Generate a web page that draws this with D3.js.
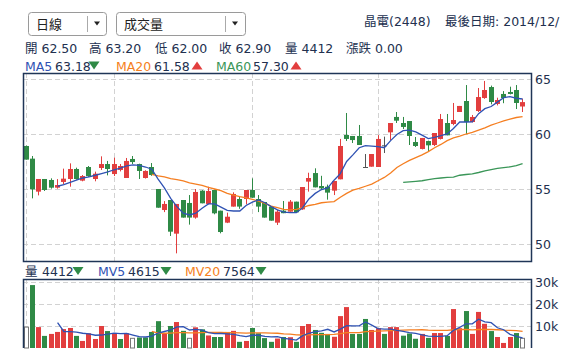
<!DOCTYPE html>
<html><head><meta charset="utf-8">
<script src="https://cdn.jsdelivr.net/npm/d3@7/dist/d3.min.js"></script>
<style>
html,body{margin:0;padding:0;background:#fff;}
svg{display:block;font-family:"DejaVu Sans","Noto Sans CJK TC",sans-serif;}
</style></head><body>
<svg id="c" width="570" height="364"></svg>
<script>
// ---------- data ----------
const opens  = [58.91,57.76,54.76,55.91,55.82,55.12,55.64,55.91,56.82,55.76,57.0,55.91,56.91,57.27,56.36,56.73,56.0,57.73,57.27,56.0,
                57.0,55.0,53.09,54.0,50.94,54.0,53.73,52.4,54.85,53.64,54.91,53.03,51.94,53.4,54.09,54.09,54.91,54.09,53.82,53.4,
                51.94,53.03,52.94,53.85,53.15,55.67,56.45,55.27,55.21,54.85,55.88,59.91,59.82,59.82,57.0,57.03,57.0,58.97,60.15,61.55,
                61.0,61.18,59.27,58.64,59.36,59.0,59.55,61.0,60.91,62.0,63.0,61.09,62.09,63.27,64.27,62.73,63.64,63.82,64.0,62.5];
const highs  = [58.95,58.0,55.91,55.91,55.97,55.9,56.85,57.33,56.94,56.27,57.09,56.58,57.97,57.55,57.85,57.27,57.82,58.0,57.3,56.7,
                57.36,55.0,53.9,54.0,53.64,54.0,54.45,55.0,54.9,55.21,54.95,53.03,52.85,54.7,54.3,54.91,55.97,54.45,53.82,53.4,
                53.1,53.91,54.0,53.85,55.18,56.48,56.88,56.2,55.4,55.73,59.55,61.91,59.82,60.82,58.18,58.18,59.9,59.76,61.0,62.0,
                61.55,61.18,59.73,59.64,59.4,60.09,61.82,61.82,62.82,62.55,64.45,61.73,64.18,64.82,64.4,63.3,63.9,64.3,64.45,63.2];
const lows   = [57.67,54.15,54.42,54.82,55.03,55.03,55.42,55.21,55.85,55.7,56.1,55.7,56.73,56.24,56.18,56.6,56.0,57.27,55.91,55.95,
                56.2,53.3,52.9,50.73,49.15,52.4,51.76,52.3,53.7,53.6,52.7,50.97,51.9,53.4,53.2,53.6,54.2,52.9,52.4,52.12,
                51.73,52.8,52.94,52.88,53.1,54.76,55.15,54.9,54.03,54.45,55.88,59.36,59.18,59.0,57.0,57.03,57.0,58.27,59.45,61.0,
                60.45,59.0,58.82,58.6,58.4,58.9,59.5,59.88,60.8,62.0,60.0,61.05,62.0,63.2,62.7,62.6,62.8,63.6,62.27,62.0];
const closes = [57.67,54.97,55.91,54.91,55.12,55.36,55.94,56.82,55.91,56.18,56.18,56.39,57.27,56.82,57.27,57.09,57.55,57.45,56.64,56.64,
                56.27,53.3,53.64,51.12,53.64,52.4,52.4,54.73,53.7,54.82,52.79,51.09,52.48,54.55,53.4,54.91,54.21,53.4,52.4,52.12,
                52.94,52.8,53.85,52.88,55.18,56.0,55.15,55.06,54.67,55.73,58.91,59.55,59.45,59.0,57.0,58.18,59.55,58.97,61.0,61.21,
                60.64,59.82,58.91,59.64,58.97,60.09,61.36,59.88,61.27,62.55,61.09,61.55,63.36,64.0,62.91,63.09,63.27,63.64,62.82,62.9];
// volume in thousands of lots
const volumes = [9.5,28.6,9.5,5.5,6.4,7.3,8.6,9.1,5.5,3.2,6.7,4.1,10.0,7.7,6.7,4.1,6.7,4.4,4.8,4.8,
                 7.3,12.2,6.6,10.0,11.8,7.8,4.4,9.4,8.5,5.7,5.0,5.0,7.3,7.8,2.8,3.2,9.1,6.7,4.5,2.8,
                 4.3,5.0,4.9,2.8,10.0,10.9,8.2,6.9,6.4,5.1,14.5,18.6,6.4,6.4,13.2,8.2,9.0,6.4,9.5,9.5,
                 5.6,6.6,4.2,6.4,4.6,6.8,6.8,5.5,17.7,9.0,16.8,6.4,16.4,11.0,7.7,5.0,2.3,5.0,6.8,4.4];
// u = up vs previous close, d = down, f = flat
const volDir = ["f","d","u","d","u","u","u","u","d","u","u","u","u","d","u","d","u","f","d","d",
                "d","d","u","d","u","d","f","u","d","u","d","d","u","u","d","u","d","d","d","d",
                "u","d","u","d","u","u","d","d","d","u","u","u","d","d","d","u","u","d","u","u",
                "d","d","d","u","d","u","u","d","u","u","d","u","u","u","d","u","u","u","d","f"];
const ma5 = [null,null,null,null,null,55.25,55.4,55.6,55.8,56.0,56.1,56.25,56.4,56.55,56.75,56.9,57.1,57.2,57.15,57.0,
             56.8,55.9,55.1,54.15,53.4,52.8,52.64,52.8,53.25,53.65,53.65,53.35,53.05,53.0,53.0,53.5,53.8,54.0,53.75,53.4,
             53.1,52.9,52.85,52.85,53.3,54.1,54.6,54.95,55.1,55.8,56.4,57.5,58.1,58.75,58.95,58.9,58.85,58.75,59.4,59.95,
             60.3,60.35,60.2,59.9,59.58,59.7,59.85,60.0,60.5,61.09,61.09,61.1,61.85,62.3,62.5,62.9,63.3,63.4,63.25,63.18];
const ma20 = [null,null,null,null,null,null,null,null,null,null,null,null,null,null,null,null,null,null,null,null,
              56.33,56.2,56.1,55.95,55.85,55.73,55.55,55.45,55.32,55.15,55.0,54.85,54.6,54.45,54.3,54.2,54.05,53.9,53.7,53.45,
              53.3,53.15,53.1,53.15,53.3,53.5,53.6,53.75,53.8,53.85,54.25,54.6,54.9,55.05,55.25,55.45,55.75,56.05,56.45,56.95,
              57.3,57.6,57.85,58.1,58.4,58.75,59.05,59.4,59.65,59.8,60.0,60.15,60.35,60.55,60.8,61.0,61.2,61.35,61.5,61.58];
const ma60 = [null,null,null,null,null,null,null,null,null,null,null,null,null,null,null,null,null,null,null,null,
              null,null,null,null,null,null,null,null,null,null,null,null,null,null,null,null,null,null,null,null,
              null,null,null,null,null,null,null,null,null,null,null,null,null,null,null,null,null,null,null,null,
              55.6,55.65,55.7,55.75,55.85,55.95,56.0,56.05,56.08,56.25,56.32,56.37,56.5,56.65,56.77,56.87,56.95,57.02,57.12,57.3];
const mv5 = [null,null,null,null,null,11.5,7.5,7.4,7.2,6.7,6.4,5.8,5.9,6.3,6.8,6.5,6.6,5.9,5.2,5.0,
             5.4,6.8,7.5,8.2,9.6,9.7,8.2,8.5,8.1,7.0,6.5,6.6,6.4,6.2,5.6,5.2,5.8,5.8,5.3,5.1,
             5.2,4.4,4.0,3.6,5.6,6.7,7.4,7.8,8.5,7.3,8.6,10.2,10.1,10.1,11.8,10.4,8.8,8.6,8.6,8.0,
             7.6,7.0,6.6,6.0,5.4,5.3,5.3,5.6,8.0,9.4,11.0,11.0,13.1,11.9,11.5,9.2,8.3,6.2,5.3,4.6];
const mv20 = [null,null,null,null,null,null,null,null,null,null,null,null,null,null,null,null,null,null,null,null,
              7.6,6.8,6.7,6.8,7.0,7.0,6.9,6.9,7.0,7.1,7.1,7.1,7.0,7.0,6.9,6.8,6.9,6.9,6.9,6.8,
              6.7,6.4,6.3,6.0,5.9,6.0,6.1,6.1,6.1,6.2,6.5,7.0,7.0,7.0,7.4,7.6,7.7,7.8,7.9,8.0,
              8.1,8.2,8.2,8.3,8.1,8.0,8.0,8.0,8.3,8.4,8.4,8.2,8.4,8.5,8.4,8.3,8.1,8.0,7.9,7.56];
const monthStarts = [0,14,36,56];
const priceTicks = [50,55,60,65];
const volTicks = [10,20,30];
const volTickLabels = ["10k","20k","30k"];

// ---------- styles ----------
const RED = "#e23e3e", GREEN = "#2f8a46", GRAY = "#555", NAVY = "#1f3557", TXT = "#22304f";
const C_MA5 = "#2f52b3", C_MA20 = "#f57f22", C_MA60 = "#3a9658";

const svg = d3.select("#c");
const n = closes.length;
const x = d3.scaleLinear().domain([-0.5, n + 0.5]).range([23, 532]);
const y = d3.scaleLinear().domain([50, 65]).range([244, 79]);
const yv = d3.scaleLinear().domain([0, 30]).range([348, 282]);
const PL = 23, PR = 532, PT = 73, PB = 262, VT = 279, VB = 348;

// ---------- header ----------
function dropdown(x0, w, divX, label) {
  const g = svg.append("g");
  g.append("rect").attr("x", x0 + 0.5).attr("y", 12.5).attr("width", w).attr("height", 23)
    .attr("rx", 3).attr("fill", "#fff").attr("stroke", "#9a9a9a");
  g.append("line").attr("x1", divX + 0.5).attr("x2", divX + 0.5).attr("y1", 16).attr("y2", 32).attr("stroke", "#aaa");
  g.append("path").attr("d", `M${divX + 7},21.5 h6 l-3,4 z`).attr("fill", "#222");
  g.append("text").attr("x", x0 + 8).attr("y", 28.5).attr("font-size", 13).attr("fill", "#222").text(label);
}
dropdown(28, 78, 87, "日線");
dropdown(116, 129, 225, "成交量");

svg.append("text").attr("x", 364).attr("y", 26).attr("font-size", 12.5).attr("fill", TXT).text("晶電(2448)");
svg.append("text").attr("x", 445).attr("y", 26).attr("font-size", 12.5).attr("fill", TXT).text("最後日期: 2014/12/");

const row2 = [["開 62.50", 25], ["高 63.20", 89], ["低 62.00", 155], ["收 62.90", 219], ["量 4412", 285], ["漲跌 0.00", 346]];
row2.forEach(([t, xx]) => svg.append("text").attr("x", xx).attr("y", 53).attr("font-size", 12.5).attr("fill", TXT).text(t));

function tri(cx, yTop, up, color) {
  const w = 11, h = 8;
  const d = up ? `M${cx - w / 2},${yTop + h} L${cx + w / 2},${yTop + h} L${cx},${yTop} Z`
               : `M${cx - w / 2},${yTop} L${cx + w / 2},${yTop} L${cx},${yTop + h} Z`;
  svg.append("path").attr("d", d).attr("fill", color);
}
function legendItem(xl, label, color, xv, val, xt, up, baseY) {
  svg.append("text").attr("x", xl).attr("y", baseY).attr("font-size", 12.5).attr("fill", color).text(label);
  svg.append("text").attr("x", xv).attr("y", baseY).attr("font-size", 12.5).attr("fill", TXT).text(val);
  tri(xt, baseY - 9, up, up ? RED : GREEN);
}
legendItem(25, "MA5", C_MA5, 55, "63.18", 94, false, 70.5);
legendItem(116, "MA20", C_MA20, 154, "61.58", 197, true, 70.5);
legendItem(216, "MA60", C_MA60, 253, "57.30", 296, true, 70.5);

svg.append("text").attr("x", 25).attr("y", 276).attr("font-size", 12.5).attr("fill", TXT).text("量");
legendItem(42, "", TXT, 42, "4412", 78, false, 276);
legendItem(98, "MV5", C_MA5, 128, "4615", 166, false, 276);
legendItem(185, "MV20", C_MA20, 223, "7564", 261, false, 276);

// ---------- main price panel ----------
const gridC = "#d2d2d2";
const main = svg.append("g");
main.selectAll(".hg").data(priceTicks).enter().append("line")
  .attr("x1", PL).attr("x2", PR).attr("y1", d => Math.round(y(d)) + 0.5).attr("y2", d => Math.round(y(d)) + 0.5)
  .attr("stroke", gridC).attr("stroke-dasharray", "5,3");
main.selectAll(".vg").data(monthStarts).enter().append("line")
  .attr("x1", d => Math.floor(x(d)) + 0.5).attr("x2", d => Math.floor(x(d)) + 0.5).attr("y1", PT).attr("y2", PB)
  .attr("stroke", gridC).attr("stroke-dasharray", "5,3");

svg.append("defs").append("clipPath").attr("id", "clipMain")
  .append("rect").attr("x", PL + 1).attr("y", PT + 1).attr("width", PR - PL - 2).attr("height", PB - PT - 2);
const plot = main.append("g").attr("clip-path", "url(#clipMain)");

const idx = d3.range(n);
const colorOf = i => closes[i] > opens[i] ? RED : (closes[i] < opens[i] ? GREEN : GRAY);
const bx = i => Math.round(x(i) - 2.5);

plot.selectAll(".wick").data(idx).enter().append("line")
  .attr("x1", i => bx(i) + 2.5).attr("x2", i => bx(i) + 2.5)
  .attr("y1", i => y(highs[i])).attr("y2", i => y(lows[i]))
  .attr("stroke", colorOf).attr("stroke-width", 1);
plot.selectAll(".body").data(idx).enter().append("rect")
  .attr("x", i => bx(i)).attr("width", 5)
  .attr("y", i => y(Math.max(opens[i], closes[i])))
  .attr("height", i => Math.max(1, Math.abs(y(opens[i]) - y(closes[i]))))
  .attr("fill", colorOf);

const line = d3.line().defined(d => d != null).x((d, i) => x(i)).y(d => y(d));
[[ma60, C_MA60], [ma20, C_MA20], [ma5, C_MA5]].forEach(([arr, c]) => {
  plot.append("path").datum(arr).attr("d", line).attr("fill", "none").attr("stroke", c).attr("stroke-width", 1.3);
});

main.append("rect").attr("x", PL + 0.5).attr("y", PT + 0.5).attr("width", PR - PL - 1).attr("height", PB - PT - 1)
  .attr("fill", "none").attr("stroke", NAVY).attr("stroke-width", 1.5);
main.selectAll(".yl").data(priceTicks).enter().append("text")
  .attr("x", 535).attr("y", d => y(d)).attr("dy", "0.36em").attr("font-size", 12.5).attr("fill", TXT).text(d => d);

// ---------- volume panel ----------
const vol = svg.append("g");
vol.selectAll(".hg").data(volTicks).enter().append("line")
  .attr("x1", PL).attr("x2", PR).attr("y1", d => Math.round(yv(d)) + 0.5).attr("y2", d => Math.round(yv(d)) + 0.5)
  .attr("stroke", gridC).attr("stroke-dasharray", "5,3");
vol.selectAll(".vg").data(monthStarts).enter().append("line")
  .attr("x1", d => Math.floor(x(d)) + 0.5).attr("x2", d => Math.floor(x(d)) + 0.5).attr("y1", VT).attr("y2", VB)
  .attr("stroke", gridC).attr("stroke-dasharray", "5,3");
const vcol = i => volDir[i] === "u" ? RED : (volDir[i] === "d" ? GREEN : "none");
vol.selectAll(".vb").data(idx).enter().append("rect")
  .attr("x", i => volDir[i] === "f" ? bx(i) + 0.5 : bx(i))
  .attr("width", i => volDir[i] === "f" ? 4 : 5)
  .attr("y", i => yv(volumes[i]))
  .attr("height", i => VB - yv(volumes[i]))
  .attr("fill", i => volDir[i] === "f" ? "#fff" : vcol(i))
  .attr("stroke", i => volDir[i] === "f" ? "#777" : "none");
const vline = d3.line().defined(d => d != null).x((d, i) => x(i)).y(d => yv(d));
[[mv20, C_MA20], [mv5, C_MA5]].forEach(([arr, c]) => {
  vol.append("path").datum(arr).attr("d", vline).attr("fill", "none").attr("stroke", c).attr("stroke-width", 1.3);
});
vol.append("path").attr("d", `M${PL + 0.5},${VB} V${VT + 0.5} H${PR - 0.5} V${VB}`)
  .attr("fill", "none").attr("stroke", NAVY).attr("stroke-width", 1.5);
vol.selectAll(".yl").data(volTicks).enter().append("text")
  .attr("x", 535).attr("y", d => yv(d)).attr("dy", "0.36em").attr("font-size", 12.5).attr("fill", TXT)
  .text((d, i) => volTickLabels[i]);
</script>
</body></html>
